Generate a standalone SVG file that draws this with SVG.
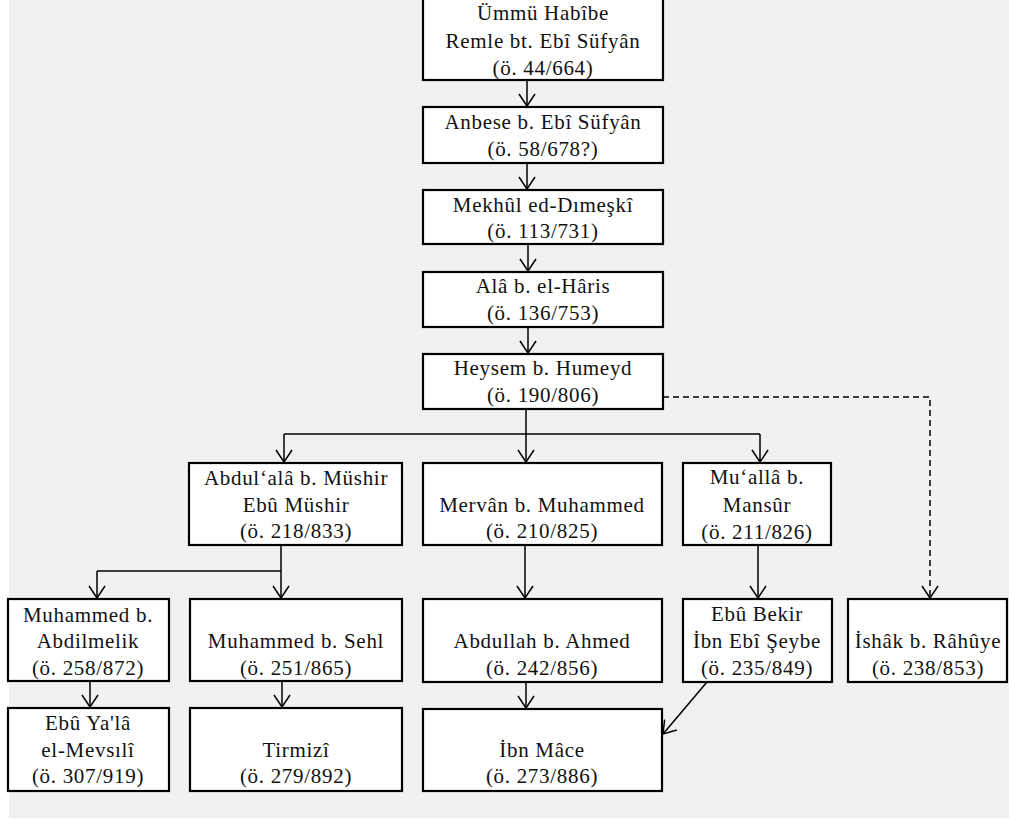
<svg xmlns="http://www.w3.org/2000/svg" width="1009" height="822" viewBox="0 0 1009 822">
<style>
.bx{fill:#ffffff;stroke:#000;stroke-width:2.2}
.t{font-family:"Liberation Serif","Times New Roman",serif;font-size:21px;letter-spacing:0.7px;fill:#111;text-anchor:middle}
.c{fill:none;stroke:#000;stroke-width:1.5}
.d{fill:none;stroke:#000;stroke-width:1.5;stroke-dasharray:6 4}
</style>
<defs>
<marker id="ah" viewBox="0 0 14 18" refX="13" refY="9" markerWidth="14" markerHeight="18" markerUnits="userSpaceOnUse" orient="auto">
<path d="M1,1 L13,9 L1,17" fill="none" stroke="#000" stroke-width="1.5"/>
</marker>
</defs>
<rect x="0" y="0" width="1009" height="822" fill="#ffffff"/>
<rect x="9" y="0" width="1000" height="818" fill="#f1f1f1"/>
<g id="connectors">
<path class="c" d="M527,80 V106" marker-end="url(#ah)"/>
<path class="c" d="M527,163 V189" marker-end="url(#ah)"/>
<path class="c" d="M528,244 V271" marker-end="url(#ah)"/>
<path class="c" d="M528,327 V353" marker-end="url(#ah)"/>
<path class="c" d="M526,409 V462" marker-end="url(#ah)"/>
<path class="c" d="M284,434 H760"/>
<path class="c" d="M284,434 V462" marker-end="url(#ah)"/>
<path class="c" d="M760,434 V462" marker-end="url(#ah)"/>
<path class="d" d="M663,397 H930 V598" marker-end="url(#ah)"/>
<path class="c" d="M281,545 V598" marker-end="url(#ah)"/>
<path class="c" d="M97,571 H281"/>
<path class="c" d="M97,571 V598" marker-end="url(#ah)"/>
<path class="c" d="M525,545 V598" marker-end="url(#ah)"/>
<path class="c" d="M758,545 V598" marker-end="url(#ah)"/>
<path class="c" d="M90,681 V707" marker-end="url(#ah)"/>
<path class="c" d="M282,681 V707" marker-end="url(#ah)"/>
<path class="c" d="M526,682 V708" marker-end="url(#ah)"/>
<path class="c" d="M707,682 L663,734" marker-end="url(#ah)"/>
</g>
<g id="n1"><rect class="bx" x="423" y="-2" width="240" height="82"/>
<text class="t" x="543" y="20">Ümmü Habîbe</text><text class="t" x="543" y="48">Remle bt. Ebî Süfyân</text><text class="t" x="543" y="75">(ö. 44/664)</text></g>
<g id="n2"><rect class="bx" x="423" y="107" width="240" height="56"/>
<text class="t" x="543" y="129">Anbese b. Ebî Süfyân</text><text class="t" x="543" y="156">(ö. 58/678?)</text></g>
<g id="n3"><rect class="bx" x="423" y="190" width="240" height="54"/>
<text class="t" x="543" y="212">Mekhûl ed-Dımeşkî</text><text class="t" x="543" y="238">(ö. 113/731)</text></g>
<g id="n4"><rect class="bx" x="423" y="272" width="240" height="55"/>
<text class="t" x="543" y="293">Alâ b. el-Hâris</text><text class="t" x="543" y="320">(ö. 136/753)</text></g>
<g id="n5"><rect class="bx" x="423" y="354" width="240" height="55"/>
<text class="t" x="543" y="375">Heysem b. Humeyd</text><text class="t" x="543" y="402">(ö. 190/806)</text></g>
<g id="n6"><rect class="bx" x="189" y="463" width="213" height="82"/>
<text class="t" x="296" y="485">Abdul‘alâ b. Müshir</text><text class="t" x="296" y="512">Ebû Müshir</text><text class="t" x="296" y="538">(ö. 218/833)</text></g>
<g id="n7"><rect class="bx" x="423" y="463" width="239" height="82"/>
<text class="t" x="542" y="512">Mervân b. Muhammed</text><text class="t" x="542" y="538">(ö. 210/825)</text></g>
<g id="n8"><rect class="bx" x="683" y="463" width="148" height="82"/>
<text class="t" x="757" y="484">Mu‘allâ b.</text><text class="t" x="757" y="512">Mansûr</text><text class="t" x="757" y="539">(ö. 211/826)</text></g>
<g id="n9"><rect class="bx" x="8" y="599" width="161" height="82"/>
<text class="t" x="88" y="622">Muhammed  b.</text><text class="t" x="88" y="648">Abdilmelik</text><text class="t" x="88" y="675">(ö. 258/872)</text></g>
<g id="n10"><rect class="bx" x="190" y="599" width="212" height="82"/>
<text class="t" x="296" y="648">Muhammed b. Sehl</text><text class="t" x="296" y="675">(ö. 251/865)</text></g>
<g id="n11"><rect class="bx" x="423" y="599" width="239" height="83"/>
<text class="t" x="542" y="648">Abdullah b. Ahmed</text><text class="t" x="542" y="675">(ö. 242/856)</text></g>
<g id="n12"><rect class="bx" x="683" y="599" width="149" height="83"/>
<text class="t" x="757" y="621">Ebû Bekir</text><text class="t" x="757" y="648">İbn Ebî Şeybe</text><text class="t" x="757" y="675">(ö. 235/849)</text></g>
<g id="n13"><rect class="bx" x="848" y="599" width="159" height="83"/>
<text class="t" x="928" y="648">İshâk b. Râhûye</text><text class="t" x="928" y="675">(ö. 238/853)</text></g>
<g id="n14"><rect class="bx" x="8" y="708" width="161" height="83"/>
<text class="t" x="88" y="730">Ebû Ya'lâ</text><text class="t" x="88" y="757">el-Mevsılî</text><text class="t" x="88" y="783">(ö. 307/919)</text></g>
<g id="n15"><rect class="bx" x="190" y="708" width="212" height="83"/>
<text class="t" x="296" y="757">Tirmizî</text><text class="t" x="296" y="783">(ö. 279/892)</text></g>
<g id="n16"><rect class="bx" x="423" y="709" width="239" height="82"/>
<text class="t" x="542" y="757">İbn Mâce</text><text class="t" x="542" y="783">(ö. 273/886)</text></g>
</svg>
